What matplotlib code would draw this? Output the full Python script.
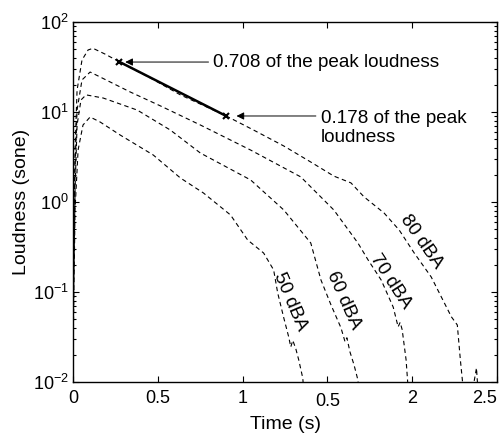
"""
Loudness decay curves (sone, log axis) for four playback levels, with the
0.708 / 0.178 of peak loudness points marked on the 80 dBA curve.
Saves out.png.
"""
import matplotlib
matplotlib.use("Agg")
import matplotlib.pyplot as plt

plt.rcParams["font.family"] = ["Liberation Sans", "DejaVu Sans"]
plt.rcParams["mathtext.fontset"] = "custom"
plt.rcParams["mathtext.rm"] = "Liberation Sans"
plt.rcParams["mathtext.it"] = "Liberation Sans:italic"

FS = 13

# loudness curves: time (s), loudness (sone)
T_80 = [0.0, 0.012, 0.024, 0.053, 0.089, 0.118, 0.189, 0.272, 0.456, 0.633,
        0.905, 1.065, 1.243, 1.402, 1.538, 1.639, 1.716, 1.834, 1.923, 2.012,
        2.112, 2.231, 2.266, 2.284, 2.302, 2.35, 2.379, 2.39]
L_80 = [0.105, 3.8, 17.5, 37.8, 48.9, 51.0, 44.0, 36.2, 23.9, 15.5,
        9.0, 6.3, 4.19, 2.78, 1.94, 1.63, 1.14, 0.755, 0.489, 0.271,
        0.147, 0.053, 0.043, 0.0176, 0.008, 0.007, 0.0143, 0.007]

T_70 = [0.0, 0.012, 0.024, 0.053, 0.101, 0.160, 0.337, 0.515, 0.751, 1.047,
        1.343, 1.538, 1.680, 1.740, 1.817, 1.888, 1.917, 1.929, 1.941, 1.964,
        1.976]
L_70 = [0.049, 2.27, 10.5, 22.7, 27.8, 24.5, 16.7, 11.7, 7.17, 3.78,
        1.90, 0.815, 0.35, 0.227, 0.136, 0.068, 0.041, 0.046, 0.038, 0.0176,
        0.0085]

T_60 = [0.0, 0.012, 0.024, 0.047, 0.077, 0.178, 0.379, 0.574, 0.751, 1.047,
        1.243, 1.402, 1.462, 1.521, 1.580, 1.604, 1.615, 1.633, 1.657, 1.680,
        1.686]
L_60 = [0.029, 1.36, 7.17, 13.6, 15.5, 14.3, 10.5, 6.3, 3.5, 1.76,
        0.815, 0.35, 0.136, 0.072, 0.040, 0.028, 0.031, 0.0216, 0.0155, 0.0105,
        0.0078]

T_50 = [0.0, 0.012, 0.030, 0.059, 0.101, 0.160, 0.278, 0.473, 0.633, 0.769,
        0.929, 1.030, 1.124, 1.183, 1.207, 1.243, 1.272, 1.284, 1.296, 1.314,
        1.331, 1.355, 1.361]
L_50 = [0.0176, 0.815, 3.78, 7.17, 8.8, 7.74, 5.55, 3.33, 1.85, 1.26,
        0.717, 0.378, 0.271, 0.176, 0.0975, 0.0514, 0.0316, 0.0245, 0.029, 0.0233,
        0.0176, 0.011, 0.0077]

CURVES = [(T_50, L_50), (T_60, L_60), (T_70, L_70), (T_80, L_80)]
LEVELS = ["50 dBA", "60 dBA", "70 dBA", "80 dBA"]

# level labels: position (t, sone) and rotation
LABEL_T = [1.278, 1.598, 1.870, 2.053]
LABEL_L = [0.0774, 0.0815, 0.132, 0.36]
LABEL_ROT = [-67, -66, -57, -55]

# 0.708 and 0.178 of peak loudness on the 80 dBA curve
MARK_T = [0.272, 0.905]
MARK_L = [36.2, 9.0]
MARK_TEXT = ["0.708 of the peak loudness", "0.178 of the peak\nloudness"]

XTICKS = [0, 0.5, 1, 1.5, 2, 2.5]
XTICKLABELS = ["0", "0.5", "1", "0.5", "2", "2.5"]

fig = plt.figure(figsize=(5.04, 4.34), dpi=100)
ax = fig.add_axes([73 / 504, 1 - 382 / 434, 424 / 504, 360 / 434])

for (t, l) in CURVES:
    ax.plot(t, l, color="black", linewidth=0.8, linestyle=(0, (4, 3)))

ax.plot(MARK_T, MARK_L, color="black", linewidth=1.8, marker="x",
        markersize=5, markeredgewidth=1.5)

for lab, t, l, r in zip(LEVELS, LABEL_T, LABEL_L, LABEL_ROT):
    ax.text(t, l, lab, rotation=r, rotation_mode="anchor", ha="center",
            va="center", fontsize=FS + 0.5)

# arrows + notes
arrow = dict(arrowstyle="-|>", color="black", lw=0.7, mutation_scale=11,
             shrinkA=0, shrinkB=0)
ax.annotate("", xy=(0.308, 35.9), xytext=(0.799, 35.9), arrowprops=arrow)
ax.text(0.828, 35.9, MARK_TEXT[0], ha="left", va="center", fontsize=FS + 0.6)
ax.annotate("", xy=(0.964, 9.03), xytext=(1.432, 9.03), arrowprops=arrow)
ax.text(1.462, 6.64, MARK_TEXT[1], ha="left", va="center", fontsize=FS + 0.6,
        linespacing=1.15)

ax.set_yscale("log")
ax.set_xlim(0, 2.5)
ax.set_ylim(1e-2, 1e2)
ax.set_xticks(XTICKS)
ax.set_xticklabels(XTICKLABELS)
ax.tick_params(which="both", direction="in", top=True, right=True,
               labelsize=FS, width=0.8)
ax.tick_params(which="major", length=4)
ax.tick_params(which="minor", length=2.5)
ax.tick_params(axis="x", pad=6)
ax.tick_params(axis="y", pad=3)
ax.xaxis.get_major_ticks()[3].set_pad(8)
ax.get_xticklabels()[-1].set_horizontalalignment("right")
ax.xaxis.get_major_ticks()[-1].label1.set_horizontalalignment("right")
for s in ax.spines.values():
    s.set_linewidth(1.0)

ax.set_xlabel("Time (s)", fontsize=FS + 1, labelpad=4)
ax.set_ylabel("Loudness (sone)", fontsize=FS + 1, labelpad=2)

fig.savefig("out.png", dpi=100)
